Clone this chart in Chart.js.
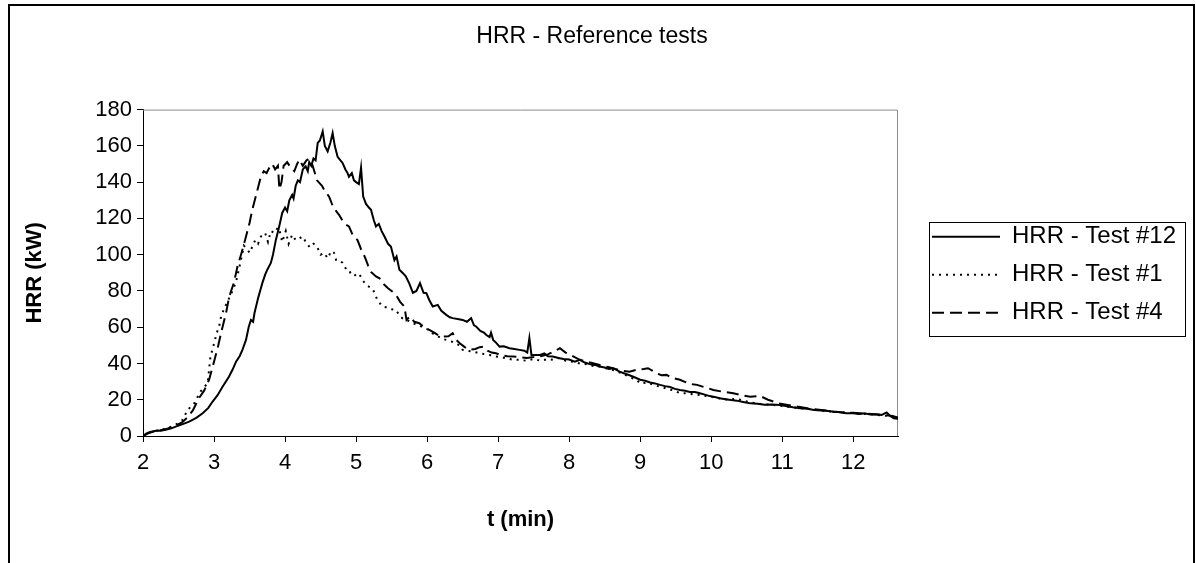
<!DOCTYPE html>
<html>
<head>
<meta charset="utf-8">
<title>HRR - Reference tests</title>
<script src="https://cdn.jsdelivr.net/npm/chart.js@4/dist/chart.umd.min.js"></script>
<style>
  html, body { margin: 0; padding: 0; background: #fff; }
  canvas { display: block; }
</style>
</head>
<body>
<canvas id="hrr" width="1196" height="563"></canvas>
<script>
// Heat release rate readings, [time (min), HRR (kW)]
const test12 = [
  [2.00,0],[2.05,1.5],[2.10,2.2],[2.15,2.6],[2.20,3.0],[2.25,2.9],[2.32,3.4],[2.40,4.2],[2.46,5.2],[2.55,6.4],
  [2.65,7.9],[2.75,10.0],[2.84,12.5],[2.92,15.5],[2.98,19.0],[3.05,22.5],[3.12,27.2],[3.21,32.7],[3.26,36.5],[3.31,41.0],
  [3.36,44.0],[3.40,47.5],[3.45,53.0],[3.49,60.4],[3.52,64.0],[3.55,63.0],[3.57,67.8],[3.62,76.0],[3.68,84.3],[3.72,89.0],
  [3.75,91.7],[3.80,95.4],[3.83,100],[3.87,108],[3.92,116],[3.96,123],[4.00,126],[4.03,124],[4.06,130],[4.10,133],
  [4.12,131],[4.15,138],[4.18,141],[4.21,140],[4.25,147],[4.29,148.7],[4.32,146],[4.34,151],[4.37,149],[4.40,153],
  [4.43,152],[4.46,161.6],[4.49,163],[4.53,168],[4.56,160],[4.60,157],[4.64,162],[4.67,167],[4.70,160],[4.74,154],
  [4.78,152],[4.81,150.6],[4.85,147],[4.88,145],[4.90,143],[4.94,145],[4.97,141],[5.00,140],[5.04,139],[5.07,148],
  [5.10,132],[5.14,128],[5.18,126],[5.21,124.8],[5.25,119],[5.28,115.6],[5.32,117],[5.36,113],[5.40,110],[5.45,106],
  [5.49,104.5],[5.52,100],[5.54,97],[5.57,99],[5.61,91.7],[5.66,89.8],[5.70,88],[5.75,84],[5.80,79],[5.85,80],
  [5.90,84.3],[5.95,79],[5.99,78.8],[6.03,75],[6.08,71.4],[6.15,72.3],[6.20,69],[6.27,66.8],[6.32,65.5],[6.36,65],
  [6.43,64.5],[6.50,64],[6.56,63],[6.62,65],[6.66,61],[6.69,60.4],[6.75,58],[6.80,57],[6.83,55.8],[6.88,54.5],
  [6.90,57],[6.93,53],[6.97,51.5],[7.02,49.3],[7.08,49.5],[7.16,48.4],[7.23,48],[7.30,47.5],[7.37,47],[7.41,46],
  [7.44,54],[7.47,44.5],[7.52,44.7],[7.59,44.7],[7.65,45.5],[7.70,44],[7.77,43.8],[7.85,43],[7.92,42.5],[8.00,42.2],
  [8.08,41],[8.15,42],[8.22,40.5],[8.30,39.5],[8.36,39.2],[8.43,38.3],[8.50,37.8],[8.56,37],[8.62,37.4],[8.71,35.5],
  [8.78,34.5],[8.85,33.5],[8.92,32.4],[9.00,31],[9.07,30.5],[9.14,29.5],[9.21,29],[9.28,28.2],[9.35,27.5],[9.42,27],
  [9.49,26],[9.56,25.4],[9.63,25],[9.70,24.3],[9.77,24.2],[9.84,23.6],[9.91,22.8],[9.98,22],[10.05,21.5],[10.12,20.8],
  [10.20,20.3],[10.28,19.8],[10.36,19.5],[10.45,18.8],[10.55,18],[10.65,17.8],[10.75,17.2],[10.85,17.4],[10.97,17.1],[11.05,16.5],
  [11.15,15.8],[11.25,15.3],[11.35,15],[11.45,14.4],[11.55,14],[11.65,13.8],[11.72,13.4],[11.80,13.2],[11.90,12.6],[12.00,12.5],
  [12.08,12.2],[12.16,12.5],[12.24,11.8],[12.32,12.0],[12.40,11.6],[12.47,13.0],[12.52,11.0],[12.57,9.8],[12.63,9.5]
];

const test1 = [
  [2.00,0],[2.08,1.8],[2.15,2.6],[2.25,3.3],[2.35,4.4],[2.45,6],[2.55,8.5],[2.63,14.4],[2.72,18],[2.81,24.5],
  [2.86,27],[2.91,29],[2.95,43.8],[3.00,51],[3.04,57],[3.07,60],[3.10,66],[3.14,70],[3.20,75],[3.26,80],
  [3.31,85],[3.35,92],[3.39,99],[3.42,105],[3.47,103],[3.50,101],[3.54,104.5],[3.58,108],[3.62,106],[3.66,110],
  [3.72,112],[3.76,107],[3.80,113],[3.85,112],[3.90,115],[3.92,113.7],[3.96,107],[4.01,113],[4.05,106],[4.10,111],
  [4.15,108],[4.20,109],[4.25,110],[4.29,107],[4.35,104],[4.40,106],[4.45,104.5],[4.50,100],[4.55,101],[4.60,98],
  [4.65,102],[4.69,101],[4.72,97],[4.76,97],[4.81,95.5],[4.86,92],[4.90,90],[4.95,90.7],[5.00,88],[5.05,89],
  [5.09,86],[5.15,83],[5.20,82],[5.24,80.6],[5.30,75],[5.37,71.4],[5.42,71],[5.48,70],[5.56,69.6],[5.62,66],
  [5.68,64],[5.74,63.5],[5.80,62.2],[5.89,61],[5.96,59.5],[6.03,58.5],[6.08,56.5],[6.15,55],[6.22,53.5],[6.27,53],
  [6.35,52],[6.40,51],[6.46,50],[6.50,47.5],[6.57,47],[6.64,46.5],[6.70,46],[6.74,45.6],[6.83,45],[6.90,44.5],
  [6.97,43.8],[7.05,43.5],[7.11,42.9],[7.21,42],[7.30,42],[7.40,41.5],[7.50,42.5],[7.60,41.5],[7.70,42.5],[7.77,42],
  [7.85,43],[7.95,41.5],[8.05,41],[8.15,40],[8.25,39.5],[8.35,38.5],[8.43,38.3],[8.55,37],[8.65,36],[8.75,34.5],
  [8.85,32.5],[8.95,31],[9.00,29],[9.10,29.5],[9.20,28],[9.30,27],[9.40,25.8],[9.48,25],[9.56,23.6],[9.65,23.5],
  [9.75,23],[9.85,22.5],[9.95,22],[10.05,21.2],[10.15,20.5],[10.25,20],[10.35,20.6],[10.45,19.5],[10.55,18.5],[10.65,18],
  [10.75,17.5],[10.85,17.2],[10.95,16.8],[11.10,16],[11.25,15.4],[11.40,14.8],[11.55,14],[11.70,13.5],[11.85,13],[12.00,12.6],
  [12.15,12.2],[12.30,11.8],[12.45,11.2],[12.55,10.8],[12.63,10]
];

const test4 = [
  [2.00,0],[2.08,1.6],[2.15,2.5],[2.25,3.2],[2.35,4.2],[2.45,5.5],[2.55,7.5],[2.62,10],[2.70,14],[2.79,21],
  [2.86,25],[2.93,31],[3.00,41],[3.06,50],[3.10,57],[3.17,68],[3.21,76],[3.24,80],[3.28,84.5],[3.33,93.5],
  [3.38,100],[3.43,107],[3.50,117.5],[3.54,125],[3.58,131],[3.62,137],[3.66,143],[3.70,146],[3.74,145],[3.78,148],
  [3.82,150],[3.86,147],[3.90,149],[3.92,136],[3.95,140],[3.98,149],[4.03,151],[4.08,148],[4.13,146],[4.17,150],
  [4.20,152.4],[4.25,149],[4.30,152],[4.34,153],[4.38,150],[4.42,145],[4.45,141],[4.52,138],[4.56,135],[4.62,132],
  [4.67,127],[4.72,124],[4.76,122],[4.82,118],[4.86,116.5],[4.90,115.6],[4.95,111],[5.02,108],[5.07,103],[5.12,99],
  [5.17,94],[5.21,90.5],[5.28,88],[5.33,87],[5.38,84],[5.45,81.5],[5.50,80],[5.56,78],[5.62,74],[5.68,71.4],
  [5.71,64],[5.76,66],[5.82,63],[5.89,62.2],[5.96,60],[6.03,58.5],[6.10,57],[6.16,55.5],[6.22,54.8],[6.30,55],
  [6.36,56.7],[6.41,53],[6.46,51.2],[6.53,49],[6.60,47.5],[6.68,48],[6.74,49],[6.79,49.3],[6.85,47],[6.91,46],
  [6.97,45.6],[7.05,44.5],[7.13,44],[7.21,43.8],[7.30,43.5],[7.40,43],[7.50,43.5],[7.60,44],[7.70,45],[7.80,47],
  [7.87,48.4],[7.95,46],[8.05,44],[8.15,42],[8.25,41],[8.35,40],[8.45,39],[8.55,38],[8.65,37],[8.75,36],
  [8.85,35.5],[8.95,36.5],[9.05,37],[9.11,37.4],[9.17,36],[9.23,34.6],[9.30,33.5],[9.37,33.7],[9.45,32],[9.56,31],
  [9.62,30],[9.68,29],[9.74,28.5],[9.80,28.2],[9.90,27],[10.03,25.4],[10.15,24.5],[10.31,23.6],[10.43,22.5],[10.55,21.7],
  [10.69,22],[10.80,20],[10.95,18],[11.10,17],[11.25,16],[11.40,15],[11.55,14.4],[11.70,13.6],[11.85,13],[12.00,12.8],
  [12.15,12.4],[12.30,12],[12.45,11.5],[12.55,11],[12.63,10.2]
];

const seriesLabels = ['HRR - Test #12', 'HRR - Test #1', 'HRR - Test #4'];
const chartTitle = 'HRR - Reference tests';
const xTitle = 't (min)';
const yTitle = 'HRR (kW)';
const xMin = 2, xMax = 12.63, xStep = 1;
const yMin = 0, yMax = 180, yStep = 20;

const FONT = "'Liberation Sans', Arial, sans-serif";
const toXY = pts => pts.map(([x, y]) => ({ x, y }));

// Outer frame, plot-area edges and the legend box
const framePlugin = {
  id: 'frame',
  beforeDraw(chart) {
    const { ctx, width, height } = chart;
    ctx.save();
    ctx.fillStyle = '#fff';
    ctx.fillRect(0, 0, width, height);
    ctx.strokeStyle = '#000';
    ctx.lineWidth = 2;
    ctx.strokeRect(9, 5, 1185, height + 10);
    ctx.restore();
  },
  afterLayout(chart) {
    // nudge the legend column to the right of the gap after the plot area
    const lg = chart.legend;
    if (lg) { lg.left += 20; lg.right += 20; lg.top += 2; lg.bottom += 2; }
  },
  beforeDatasetsDraw(chart) {
    const { ctx, chartArea: a } = chart;
    ctx.save();
    ctx.strokeStyle = '#8c8c8c';
    ctx.lineWidth = 1;
    ctx.beginPath();
    ctx.moveTo(a.left, a.top + 0.5);
    ctx.lineTo(a.right - 0.5, a.top + 0.5);
    ctx.lineTo(a.right - 0.5, a.bottom);
    ctx.stroke();
    ctx.restore();
  },
  afterDraw(chart) {
    const lg = chart.legend;
    if (!lg || !lg.legendHitBoxes || !lg.legendHitBoxes.length) return;
    const hb = lg.legendHitBoxes;
    const first = hb[0], last = hb[hb.length - 1];
    const left = first.left - 3;
    const top = first.top - 3;
    const right = 1185;
    const bottom = last.top + last.height + 11;
    const { ctx } = chart;
    ctx.save();
    ctx.strokeStyle = '#000';
    ctx.lineWidth = 1;
    ctx.strokeRect(Math.round(left) + 0.5, Math.round(top) + 0.5, Math.round(right - left), Math.round(bottom - top));
    ctx.restore();
  }
};

const lineStyle = {
  borderColor: '#000',
  backgroundColor: '#000',
  pointRadius: 0,
  pointHoverRadius: 0,
  tension: 0,
  fill: false,
  borderCapStyle: 'butt',
  borderJoinStyle: 'miter'
};

// legend entries carry each series' own dash pattern
function legendLabels(chart) {
  const items = Chart.defaults.plugins.legend.labels.generateLabels(chart);
  return items.map(item => {
    const ds = chart.data.datasets[item.datasetIndex];
    item.lineDash = ds.borderDash || [];
    item.lineWidth = ds.borderWidth;
    item.strokeStyle = ds.borderColor;
    item.pointStyle = 'line';
    return item;
  });
}

new Chart(document.getElementById('hrr'), {
  type: 'line',
  data: {
    datasets: [
      { ...lineStyle, label: seriesLabels[0], data: toXY(test12), borderWidth: 2, borderDash: [] },
      { ...lineStyle, label: seriesLabels[1], data: toXY(test1), borderWidth: 2, borderDash: [2, 5] },
      { ...lineStyle, label: seriesLabels[2], data: toXY(test4), borderWidth: 2, borderDash: [12, 6] }
    ]
  },
  options: {
    responsive: false,
    devicePixelRatio: 1,
    animation: false,
    events: [],
    layout: { padding: { left: 18, right: 30, top: 0, bottom: 0 } },
    plugins: {
      title: {
        display: true,
        text: chartTitle,
        color: '#000',
        font: { family: FONT, size: 23, weight: 'normal', lineHeight: 1.2 },
        padding: { top: 23, bottom: 59 }
      },
      legend: {
        display: true,
        position: 'right',
        fullSize: false,
        maxWidth: 268,
        labels: {
          color: '#000',
          font: { family: FONT, size: 24 },
          usePointStyle: true,
          pointStyle: 'line',
          pointStyleWidth: 68,
          padding: 14,
          generateLabels: legendLabels
        }
      },
      tooltip: { enabled: false }
    },
    scales: {
      x: {
        type: 'linear',
        min: xMin,
        max: xMax,
        afterFit(scale) { scale.height = 127; },
        ticks: {
          stepSize: xStep,
          includeBounds: false,
          color: '#000',
          padding: 8,
          maxRotation: 0,
          font: { family: FONT, size: 22 }
        },
        grid: { display: true, drawOnChartArea: false, drawTicks: true, tickLength: 6, color: '#000' },
        border: { display: true, color: '#000', width: 1 },
        title: {
          display: true,
          text: xTitle,
          color: '#000',
          font: { family: FONT, size: 22, weight: 'bold', lineHeight: 1.2 },
          padding: { top: 0, bottom: 30 }
        }
      },
      y: {
        type: 'linear',
        min: yMin,
        max: yMax,
        afterFit(scale) { scale.width = 125; },
        ticks: {
          stepSize: yStep,
          color: '#000',
          padding: 5,
          font: { family: FONT, size: 22 }
        },
        grid: { display: true, drawOnChartArea: false, drawTicks: true, tickLength: 6, color: '#000' },
        border: { display: true, color: '#000', width: 1 },
        title: {
          display: true,
          text: yTitle,
          color: '#000',
          font: { family: FONT, size: 22, weight: 'bold', lineHeight: 1.2 },
          padding: { top: 4, bottom: 0 }
        }
      }
    }
  },
  plugins: [framePlugin]
});
</script>
</body>
</html>
